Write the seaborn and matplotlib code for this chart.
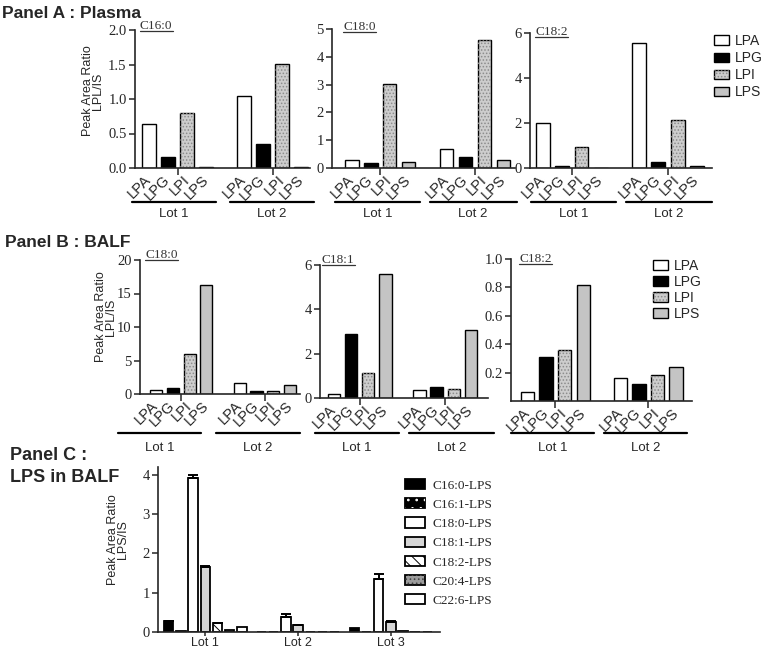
import matplotlib
matplotlib.use("Agg")
import pandas as pd
import seaborn as sns
import matplotlib.pyplot as plt
import matplotlib.transforms as mtransforms
from matplotlib.patches import Rectangle, Patch
from matplotlib.lines import Line2D
from matplotlib.legend_handler import HandlerTuple

lipids = ["LPA", "LPG", "LPI", "LPS"]
lots = ["Lot 1", "Lot 2"]

# Panel A - plasma (one list per lot: LPA, LPG, LPI, LPS)
plasma_c160 = [[0.64, 0.16, 0.80, 0.01], [1.05, 0.35, 1.51, 0.01]]
plasma_c180 = [[0.27, 0.17, 3.03, 0.22], [0.68, 0.38, 4.62, 0.30]]
plasma_c182 = [[2.00, 0.08, 0.93, 0.00], [5.57, 0.25, 2.15, 0.08]]

# Panel B - BALF
balf_c180 = [[0.6, 0.9, 6.0, 16.3], [1.6, 0.4, 0.4, 1.3]]
balf_c181 = [[0.17, 2.90, 1.15, 5.60], [0.35, 0.50, 0.40, 3.05]]
balf_c182 = [[0.06, 0.31, 0.36, 0.82], [0.16, 0.12, 0.18, 0.24]]

# Panel C - LPS species in BALF (mean and upper error per lot)
lps_species = ["C16:0-LPS", "C16:1-LPS", "C18:0-LPS", "C18:1-LPS",
               "C18:2-LPS", "C20:4-LPS", "C22:6-LPS"]
lps_lots = ["Lot 1", "Lot 2", "Lot 3"]
lps_mean = [[0.27, 0.02, 3.92, 1.65, 0.22, 0.06, 0.12],
            [0.00, 0.00, 0.38, 0.17, 0.00, 0.00, 0.01],
            [0.10, 0.00, 1.35, 0.25, 0.03, 0.00, 0.00]]
lps_err = [[0.02, 0.00, 0.07, 0.03, 0.02, 0.00, 0.00],
           [0.00, 0.00, 0.07, 0.02, 0.00, 0.00, 0.00],
           [0.00, 0.00, 0.12, 0.03, 0.00, 0.00, 0.00]]

lipid_fill = {"LPA": "white", "LPG": "black", "LPI": "#cdcdcd", "LPS": "#c4c4c4"}
lipid_hatch = {"LPI": (".....", "#8c8c8c")}
species_fill = {"C16:0-LPS": "black", "C16:1-LPS": "black", "C18:0-LPS": "white",
                "C18:1-LPS": "#d6d6d6", "C18:2-LPS": "white", "C20:4-LPS": "#9c9c9c",
                "C22:6-LPS": "white"}
species_hatch = {"C16:1-LPS": ("..", "white"), "C18:2-LPS": ("\\\\\\", "black"),
                 "C20:4-LPS": ("....", "#444444")}

sns.set_style("ticks")
plt.rcParams["font.family"] = ["Liberation Sans", "DejaVu Sans"]
plt.rcParams["hatch.linewidth"] = 0.7
plt.rcParams["axes.linewidth"] = 1.2

W, H = 765, 649
fig = plt.figure(figsize=(W / 100, H / 100), dpi=100)


def px_axes(left, top, right, bottom):
    return fig.add_axes([left / W, 1 - bottom / H, (right - left) / W, (bottom - top) / H])


def add_hatch(ax, bar, spec):
    hatch, color = spec
    ax.add_patch(Rectangle((bar.get_x(), bar.get_y()), bar.get_width(), bar.get_height(),
                           fill=False, hatch=hatch, edgecolor=color, lw=0, zorder=bar.get_zorder()))


def lipid_panel(ax, values, ylim, yticks, ylabels, width, xlim):
    rows = []
    for lot, vals in zip(lots, values):
        for lipid, v in zip(lipids, vals):
            rows.append({"slot": f"{lot} {lipid}", "lipid": lipid, "value": v})
    df = pd.DataFrame(rows)
    order = [f"{lots[0]} {l}" for l in lipids] + ["sep"] + [f"{lots[1]} {l}" for l in lipids]
    sns.barplot(data=df, x="slot", y="value", hue="lipid", order=order, hue_order=lipids,
                palette=lipid_fill, dodge=False, width=width, saturation=1,
                edgecolor="black", linewidth=1.0, legend=False, ax=ax)
    for bar in list(ax.patches):
        lipid = order[int(round(bar.get_x() + bar.get_width() / 2))].split()[-1]
        if lipid in lipid_hatch:
            add_hatch(ax, bar, lipid_hatch[lipid])
    ax.set_xticks(range(len(order)))
    ax.set_xticklabels(["" if s == "sep" else s.split()[-1] for s in order],
                       rotation=45, ha="right", va="center", rotation_mode="anchor", fontsize=10.5)
    ax.tick_params(axis="x", which="major", length=0, pad=7)
    ax.set_xticks([1.5, 6.5], minor=True)
    ax.tick_params(axis="x", which="minor", length=5, width=1.1)
    ax.set_xlim(xlim)
    ax.set_ylim(ylim)
    ax.set_yticks(yticks)
    ax.set_yticklabels(ylabels)
    ax.tick_params(axis="y", length=4, width=1.1, pad=2, labelsize=10.5,
                   labelfontfamily="Liberation Serif")
    ax.set_xlabel("")
    ax.set_ylabel("")
    sns.despine(ax=ax)


def lot_lines(ax, spans, y_line, y_text):
    tr = mtransforms.blended_transform_factory(ax.transData, fig.transFigure)
    for lot, (x0, x1) in zip(lots, spans):
        ax.add_line(Line2D([x0, x1], [1 - y_line / H] * 2, transform=tr, color="black",
                           lw=1.6, clip_on=False))
        ax.text((x0 + x1) / 2, 1 - y_text / H, lot, transform=tr, ha="center", va="center",
                fontsize=9.5)


subtitles = []


def subtitle(x, y, s):
    subtitles.append(fig.text(x / W, 1 - y / H, s, ha="left", va="center",
                              family="Liberation Serif", fontsize=9.5, color="#333333"))


def y_title(x, y, s):
    fig.text(x / W, 1 - y / H, s, rotation=90, ha="center", va="center",
             fontsize=9, linespacing=0.85)


# ---------- Panel A ----------
fig.text(2 / W, 1 - 13 / H, "Panel A : Plasma", fontsize=12.5, fontweight="bold", va="center")
y_title(93, 91, "Peak Area Ratio\nLPL/IS")

a1 = px_axes(135, 30, 310, 168)
lipid_panel(a1, plasma_c160, (0, 2.0), [0, 0.5, 1.0, 1.5, 2.0],
            ["0.0", "0.5", "1.0", "1.5", "2.0"], 0.7, (-0.74, 8.47))
lot_lines(a1, [(-0.9, 3.5), (4.25, 8.7)], 202, 214)
subtitle(140, 26, "C16:0")

a2 = px_axes(332, 29, 515, 168)
lipid_panel(a2, plasma_c180, (0, 5), range(6), [str(v) for v in range(6)], 0.7, (-1.06, 8.62))
lot_lines(a2, [(-0.9, 3.6), (4.1, 8.7)], 202, 214)
subtitle(343, 27, "C18:0")

a3 = px_axes(530, 33, 712, 168)
lipid_panel(a3, plasma_c182, (0, 6), [0, 2, 4, 6], ["0", "2", "4", "6"], 0.72, (-0.68, 8.79))
lot_lines(a3, [(-0.65, 3.8), (4.3, 8.8)], 202, 214)
subtitle(535, 32, "C18:2")


def lipid_handles():
    hs = []
    for l in lipids:
        base = Patch(facecolor=lipid_fill[l], edgecolor="black", lw=1.0)
        if l in lipid_hatch:
            h, c = lipid_hatch[l]
            hs.append((base, Patch(fill=False, hatch=h, edgecolor=c, lw=0)))
        else:
            hs.append(base)
    return hs


fig.legend(lipid_handles(), lipids, loc="upper left", bbox_to_anchor=(714 / W, 1 - 34 / H),
           frameon=False, fontsize=10, handlelength=1.1, handleheight=0.65, handletextpad=0.4,
           labelspacing=0.22, borderpad=0, borderaxespad=0,
           handler_map={tuple: HandlerTuple(ndivide=1)})

# ---------- Panel B ----------
fig.text(5 / W, 1 - 243 / H, "Panel B : BALF", fontsize=12.5, fontweight="bold", va="center")
y_title(106, 317, "Peak Area Ratio\nLPL/IS")

b1 = px_axes(140, 260, 300, 394)
lipid_panel(b1, balf_c180, (0, 20), [0, 5, 10, 15, 20], ["0", "5", "10", "15", "20"], 0.72,
            (-0.96, 8.6))
lot_lines(b1, [(-2.3, 2.7), (3.6, 8.6)], 433, 448)
subtitle(145, 255, "C18:0")

b2 = px_axes(320, 265, 488, 398)
lipid_panel(b2, balf_c181, (0, 6), [0, 2, 4, 6], ["0", "2", "4", "6"], 0.73, (-0.82, 9.0))
lot_lines(b2, [(-1.1, 3.8), (4.4, 9.35)], 433, 448)
subtitle(322, 260, "C18:1")

b3 = px_axes(511, 259, 692, 401)
lipid_panel(b3, balf_c182, (0, 1.0), [0.2, 0.4, 0.6, 0.8, 1.0],
            ["0.2", "0.4", "0.6", "0.8", "1.0"], 0.73, (-0.89, 8.85))
lot_lines(b3, [(-0.9, 3.6), (4.1, 8.6)], 433, 448)
subtitle(519, 259, "C18:2")

fig.legend(lipid_handles(), lipids, loc="upper left", bbox_to_anchor=(653 / W, 1 - 259 / H),
           frameon=False, fontsize=10, handlelength=1.1, handleheight=0.65, handletextpad=0.4,
           labelspacing=0.14, borderpad=0, borderaxespad=0,
           handler_map={tuple: HandlerTuple(ndivide=1)})

# ---------- Panel C ----------
fig.text(10 / W, 1 - 456 / H, "Panel C :", fontsize=13, fontweight="bold", va="center")
fig.text(10 / W, 1 - 477 / H, "LPS in BALF", fontsize=13, fontweight="bold", va="center")
y_title(118, 540, "Peak Area Ratio\nLPS/IS")

rows = []
for lot, means in zip(lps_lots, lps_mean):
    for sp, m in zip(lps_species, means):
        rows.append({"lot": lot, "species": sp, "value": m})
dfc = pd.DataFrame(rows)

c1 = px_axes(158, 467, 440, 632)
sns.barplot(data=dfc, x="lot", y="value", hue="species", order=lps_lots, hue_order=lps_species,
            palette=species_fill, width=0.92, gap=0.22, saturation=1, edgecolor="black",
            linewidth=1.3, errorbar=None, legend=False, ax=c1)
ex, ey, ee = [], [], []
for k, cont in enumerate(c1.containers):
    sp = lps_species[k]
    for bar in cont:
        li = int(round(bar.get_x() + bar.get_width() / 2))
        if sp in species_hatch:
            add_hatch(c1, bar, species_hatch[sp])
        err = lps_err[li][k]
        if err > 0:
            ex.append(bar.get_x() + bar.get_width() / 2)
            ey.append(bar.get_height())
            ee.append(err)
c1.errorbar(ex, ey, yerr=[[0] * len(ee), ee], fmt="none", ecolor="black", elinewidth=1.4,
            capsize=3.5, capthick=1.4)
c1.set_xlim(-0.51, 2.53)
c1.set_ylim(0, 4.2)
c1.set_yticks(range(5))
c1.tick_params(axis="y", length=4, width=1.1, pad=2, labelsize=10.5,
               labelfontfamily="Liberation Serif")
c1.tick_params(axis="x", length=3, width=1.1, pad=0.5, labelsize=9)
c1.set_xlabel("")
c1.set_ylabel("")
sns.despine(ax=c1)

sp_handles = []
for sp in lps_species:
    base = Patch(facecolor=species_fill[sp], edgecolor="black", lw=1.3)
    if sp in species_hatch:
        h, c = species_hatch[sp]
        sp_handles.append((base, Patch(fill=False, hatch=h, edgecolor=c, lw=0)))
    else:
        sp_handles.append(base)
fig.legend(sp_handles, lps_species, loc="upper left", bbox_to_anchor=(405 / W, 1 - 479 / H),
           frameon=False, prop={"family": "Liberation Serif", "size": 9.5}, handlelength=1.5,
           handleheight=0.8, handletextpad=0.6, labelspacing=0.5, borderpad=0, borderaxespad=0,
           handler_map={tuple: HandlerTuple(ndivide=1)})

# underline the fatty-acid subtitles
fig.canvas.draw()
for t in subtitles:
    bb = t.get_window_extent()
    fig.add_artist(Line2D([bb.x0 / W, bb.x1 / W], [(bb.y0 + 1) / H] * 2,
                          transform=fig.transFigure, color="#333333", lw=0.9))

fig.savefig("out.png", dpi=100)
